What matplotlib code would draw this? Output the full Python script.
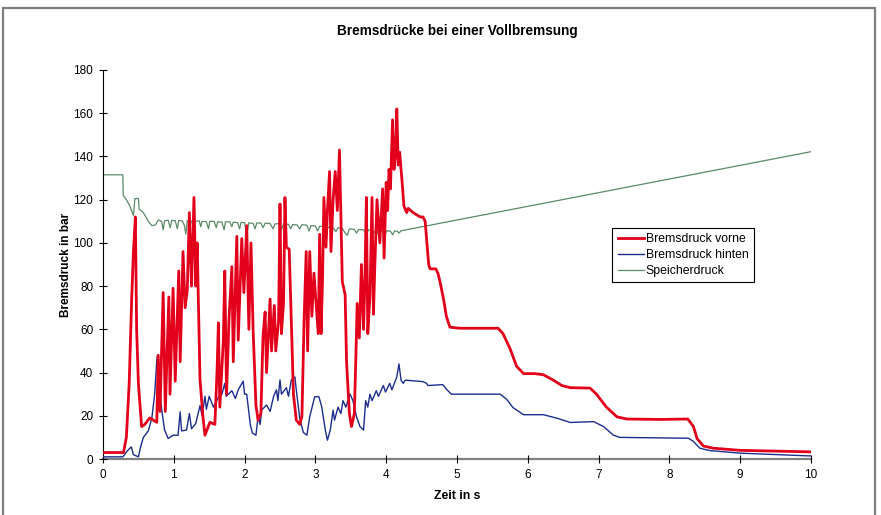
import matplotlib
matplotlib.use("Agg")
import matplotlib.pyplot as plt
from matplotlib.patches import Rectangle

plt.rcParams['font.family'] = ['Liberation Sans', 'DejaVu Sans']

# ---- data: Bremsdruck vorne (red) ----
red_t = [0.00, 0.29, 0.33, 0.37, 0.405, 0.43, 0.457, 0.475, 0.50, 0.545, 0.59, 0.66, 0.71, 0.76,
         0.78, 0.805, 0.85, 0.88, 0.93, 0.946, 0.99, 1.02, 1.07, 1.09, 1.13, 1.16, 1.19, 1.22,
         1.25, 1.285, 1.31, 1.33, 1.37, 1.41, 1.44, 1.51, 1.58, 1.61, 1.63, 1.65, 1.70, 1.72,
         1.745, 1.78, 1.82, 1.84, 1.89, 1.91, 1.96, 1.99, 2.03, 2.06, 2.09, 2.12, 2.16, 2.19,
         2.23, 2.26, 2.29, 2.31, 2.36, 2.38, 2.42, 2.44, 2.48, 2.50, 2.52, 2.55, 2.57, 2.59,
         2.63, 2.67, 2.69, 2.73, 2.78, 2.81, 2.82, 2.84, 2.87, 2.89, 2.92, 2.95, 2.98, 3.01,
         3.04, 3.06, 3.08, 3.10, 3.12, 3.15, 3.17, 3.20, 3.22, 3.25, 3.28, 3.31, 3.34, 3.36,
         3.38, 3.42, 3.44, 3.48, 3.51, 3.55, 3.57, 3.59, 3.62, 3.65, 3.68, 3.70, 3.72, 3.74,
         3.77, 3.80, 3.82, 3.84, 3.87, 3.91, 3.95, 3.97, 4.00, 4.02, 4.04, 4.06, 4.09, 4.11,
         4.13, 4.15, 4.17, 4.19, 4.23, 4.25, 4.29, 4.31, 4.38, 4.48, 4.52, 4.55, 4.57, 4.60,
         4.62, 4.70, 4.73, 4.76, 4.81, 4.85, 4.90, 5.04, 5.32, 5.58, 5.65, 5.75, 5.84, 5.94,
         6.10, 6.22, 6.36, 6.48, 6.60, 6.88, 6.97, 7.11, 7.26, 7.40, 7.87, 8.26, 8.34, 8.39,
         8.48, 8.62, 9.00, 10.00]
red_v = [3, 3, 10, 35, 74, 96, 112, 60, 35, 15, 16, 19, 18, 17,
         48, 22, 77, 22, 75, 30, 79, 36, 87, 45, 96, 70, 78, 114,
         80, 121, 80, 100, 37, 20, 11, 17, 16, 40, 63, 24, 55, 87,
         30, 65, 89, 45, 103, 55, 102, 77, 108, 60, 100, 60, 25, 18,
         21, 57, 68, 40, 74, 50, 71, 50, 64, 118, 58, 72, 121, 98,
         97, 53, 30, 18, 16, 20, 35, 64, 96, 50, 96, 66, 86, 72,
         58, 104, 58, 82, 121, 98, 115, 133, 96, 120, 133, 115, 143, 112,
         82, 76, 45, 21, 15, 21, 45, 72, 56, 90, 60, 84, 121, 58,
         75, 121, 67, 90, 120, 100, 125, 93, 128, 115, 134, 125, 157, 134,
         140, 162, 136, 142, 126, 117, 114, 116, 114, 112, 112, 110, 102, 90,
         88, 88, 86, 82, 74, 66, 61, 60.5, 60.5, 60.5, 58, 51, 43, 39.5,
         39.5, 39, 36.5, 34, 33, 32.8, 30, 24, 19.5, 18.5, 18.3, 18.5, 15, 9.5,
         6, 5, 4, 3.3]

# ---- data: Bremsdruck hinten (blue) ----
blue_t = [0.00, 0.28, 0.35, 0.40, 0.43, 0.50, 0.53, 0.57, 0.64, 0.69, 0.73, 0.76, 0.77, 0.80,
          0.83, 0.87, 0.92, 0.99, 1.06, 1.09, 1.11, 1.18, 1.22, 1.25, 1.31, 1.37, 1.40, 1.44,
          1.46, 1.50, 1.56, 1.63, 1.68, 1.72, 1.74, 1.82, 1.87, 1.91, 1.98, 2.00, 2.03, 2.08,
          2.11, 2.16, 2.19, 2.22, 2.24, 2.31, 2.36, 2.41, 2.45, 2.47, 2.50, 2.52, 2.59, 2.62,
          2.66, 2.71, 2.73, 2.78, 2.83, 2.88, 2.92, 2.99, 3.05, 3.09, 3.14, 3.17, 3.21, 3.25,
          3.27, 3.32, 3.36, 3.39, 3.43, 3.49, 3.53, 3.58, 3.63, 3.68, 3.71, 3.74, 3.77, 3.80,
          3.86, 3.89, 3.96, 3.99, 4.05, 4.08, 4.15, 4.18, 4.21, 4.24, 4.27, 4.52, 4.57, 4.59,
          4.80, 4.85, 4.92, 5.61, 5.70, 5.79, 5.94, 6.22, 6.41, 6.60, 6.93, 7.07, 7.21, 7.30,
          8.27, 8.34, 8.43, 8.57, 9.00, 10.00]
blue_v = [1.0, 1.0, 4, 5.6, 2, 1, 5.5, 10, 13, 19, 30, 45.7, 48, 32,
          22.6, 13.4, 9.5, 11, 11, 21.8, 13, 13.4, 21, 14, 16.4, 24.7, 20, 29,
          23, 29, 24, 28.5, 30, 35, 29, 31.6, 28, 32, 36, 30, 30, 16,
          12, 11, 19.6, 16, 22.6, 25, 22, 29, 32, 27, 36.6, 30, 33, 29,
          36.6, 38, 32, 18.5, 12.3, 11, 19.6, 28.8, 28.8, 24, 13.4, 8.7, 13.4, 22.6,
          18, 24, 21, 27, 24, 30, 27, 19.6, 15, 13.4, 27, 24, 30, 27,
          31.6, 29, 34, 31, 35, 32, 38, 44, 36.5, 35, 36.5, 35.8, 35, 34,
          34.4, 32.3, 30, 30, 27.7, 23.8, 20.5, 20.5, 18.9, 16.9, 17.3, 15, 11, 10,
          9.6, 8.1, 5, 3.9, 2.7, 1.4]

# ---- data: Speicherdruck (green) ----
green_t = [0.00, 0.28, 0.285, 0.33, 0.38, 0.43, 0.45, 0.50, 0.51, 0.57, 0.64, 0.69, 0.74, 0.78,
           0.80, 0.83, 0.85, 0.87, 0.92, 0.95, 0.97, 1.02, 1.05, 1.07, 1.12, 1.15, 1.17, 1.19,
           1.25, 1.28, 1.30, 1.36, 1.38, 1.40, 1.46, 1.49, 1.51, 1.57, 1.60, 1.62, 1.68, 1.71,
           1.73, 1.79, 1.82, 1.84, 1.90, 1.93, 1.95, 2.00, 2.03, 2.06, 2.12, 2.15, 2.17, 2.23,
           2.26, 2.29, 2.36, 2.40, 2.43, 2.49, 2.52, 2.55, 2.62, 2.65, 2.68, 2.74, 2.78, 2.81,
           2.88, 2.91, 2.94, 3.00, 3.03, 3.06, 3.12, 3.15, 3.18, 3.25, 3.29, 3.32, 3.38, 3.42,
           3.45, 3.48, 3.55, 3.58, 3.61, 3.68, 3.72, 3.75, 3.82, 3.86, 3.89, 3.95, 3.98, 4.01,
           4.06, 4.09, 4.12, 4.16, 4.18, 4.21, 10.00]
green_v = [131.5, 131.5, 122, 120, 117, 112.6, 120.5, 120.5, 115.6, 114, 110, 108, 108.3, 110.5,
           110.5, 109.8, 106, 110.2, 110.5, 107, 110.4, 110.3, 106.5, 110.4, 110.2, 108, 104, 110.3,
           110.1, 107, 110, 110.2, 107.5, 110, 109.8, 106.5, 110, 109.9, 107, 109.8, 109.6, 106,
           109.7, 109.8, 107.5, 109.6, 109.4, 106.5, 109.5, 109.3, 103.5, 109.3, 109.0, 106.5, 109.2, 109.2,
           107, 109.1, 109, 106.5, 108.8, 108.9, 106, 108.8, 108.6, 106.5, 108.5, 108.3, 106.5, 108.4,
           108.2, 105.5, 108.0, 107.8, 105.5, 107.7, 107.5, 105, 107.3, 107.0, 105.2, 107.0, 106.8, 104.5,
           103.5, 106.5, 106.3, 104.5, 106.2, 106.0, 104, 106.0, 105.8, 103.5, 105.7, 105.5, 104, 105.6,
           105.4, 103.8, 105.6, 105.3, 104.5, 105.6, 142.2]

labels = ["Bremsdruck vorne", "Bremsdruck hinten", "Speicherdruck"]
x_ticks = list(range(0, 11))
y_ticks = list(range(0, 181, 20))

fig = plt.figure(figsize=(8.81, 5.15), dpi=100)
ax = fig.add_axes([103/881, 1-459/515, 708/881, 389/515])

ax.plot(green_t, green_v, color='#5b8a68', lw=0.9, label=labels[2], zorder=2)
ax.plot(blue_t, blue_v, color='#1c2d8c', lw=1.0, label=labels[1], zorder=3)
ax.plot(red_t, red_v, color='#e3001b', lw=2.0, label=labels[0], zorder=4)

ax.set_xlim(0, 10)
ax.set_ylim(0, 180)
ax.set_xticks(x_ticks)
ax.set_yticks(y_ticks)
ax.tick_params(direction='inout', length=6, width=0.8, labelsize=8.5, colors='black', pad=4)
for s in ['top', 'right']:
    ax.spines[s].set_visible(False)
ax.spines['left'].set_color('black')
ax.spines['left'].set_linewidth(0.8)
ax.spines['bottom'].set_color('#808080')
ax.spines['bottom'].set_linewidth(1.6)
ax.spines['bottom'].set_zorder(1)

ax.set_title('Bremsdrücke bei einer Vollbremsung', fontsize=9.8, fontweight='bold', pad=25)
ax.set_xlabel('Zeit in s', fontsize=8.8, fontweight='bold', labelpad=7)
ax.set_ylabel('Bremsdruck in bar', fontsize=8.5, fontweight='bold', labelpad=1)

h, l = ax.get_legend_handles_labels()
order = [2, 1, 0]
leg = ax.legend([h[i] for i in order], [l[i] for i in order], loc='upper left',
                bbox_to_anchor=((612-103)/708, (459-228)/389), fontsize=8.8,
                frameon=True, fancybox=False, edgecolor='black', framealpha=1,
                handlelength=2.2, handletextpad=0.1, borderpad=0.45, labelspacing=0.3,
                borderaxespad=0)
leg.get_frame().set_linewidth(0.8)

fig.patches.append(Rectangle((3/881, -0.1), 872/881, 1.1 - 8/515, transform=fig.transFigure,
                             fill=False, edgecolor='#7f7f7f', lw=1.6, zorder=0))

fig.savefig('out.png', dpi=100)
